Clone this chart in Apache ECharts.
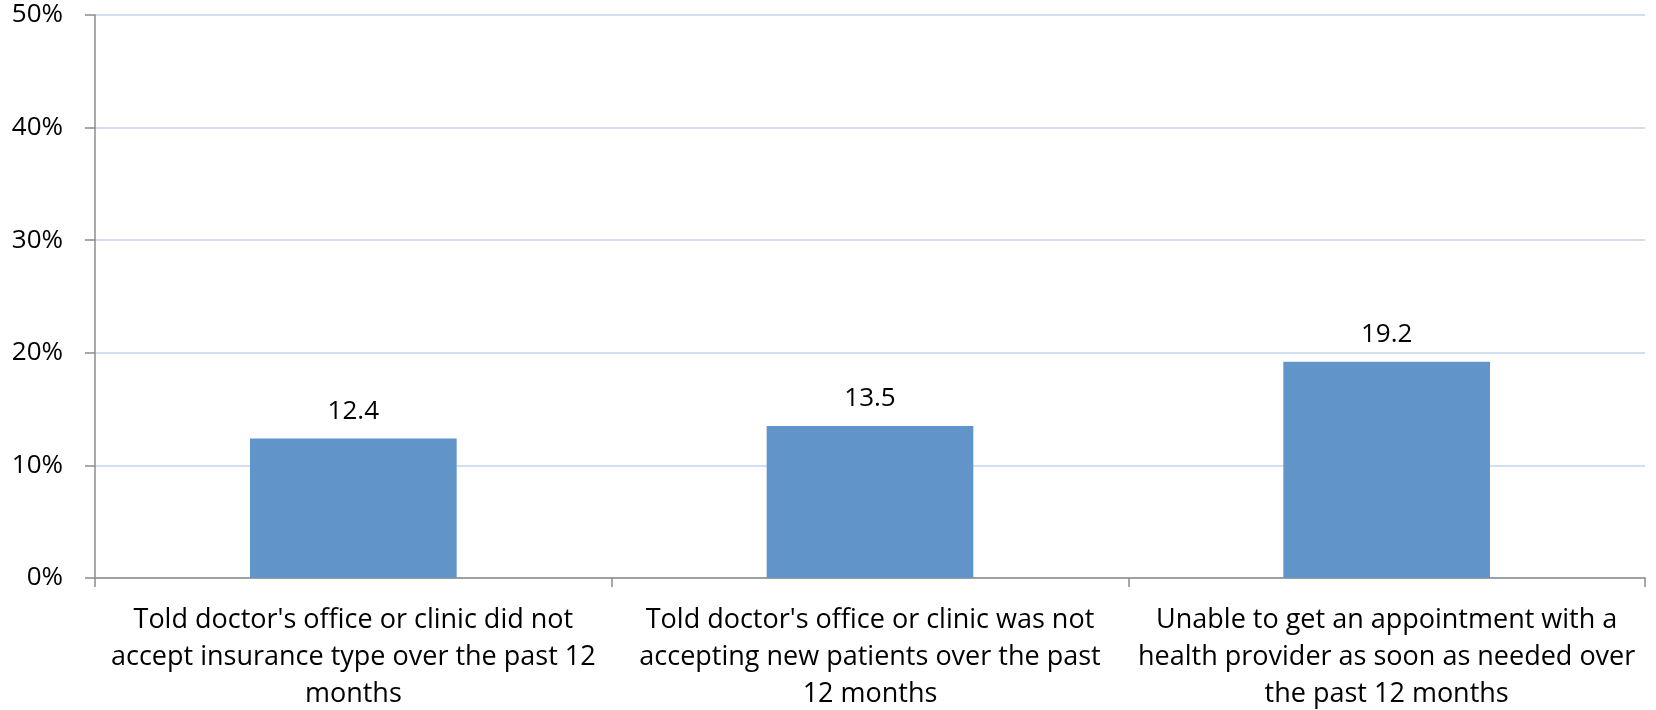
<!DOCTYPE html>
<html><head><meta charset="utf-8">
<script src="https://cdn.jsdelivr.net/npm/echarts@6/dist/echarts.min.js"></script>
<style>html,body{margin:0;padding:0;background:#fff}#c{width:1656px;height:710px}</style>
</head><body><div id="c"></div>
<script>
const categories = [
  "Told doctor's office or clinic did not\naccept insurance type over the past 12\nmonths",
  "Told doctor's office or clinic was not\naccepting new patients over the past\n12 months",
  "Unable to get an appointment with a\nhealth provider as soon as needed over\nthe past 12 months"
];
const values = [12.4, 13.5, 19.2];
const yMin = 0, yMax = 50, yStep = 10;

const chart = echarts.init(document.getElementById('c'), null, {renderer: 'canvas'});
const font = '"Open Sans", sans-serif';
chart.setOption({
  animation: false,
  grid: {left: 95, right: 11, top: 15, bottom: 132, containLabel: false, outerBoundsMode: 'none'},
  xAxis: {
    type: 'category',
    data: categories,
    axisLine: {show: true, lineStyle: {color: '#8c8c8c', width: 1.5}},
    axisTick: {show: true, length: 9, lineStyle: {color: '#8c8c8c', width: 1.5}},
    axisLabel: {color: '#000', fontFamily: font, fontSize: 27, lineHeight: 37, margin: 24, interval: 0}
  },
  yAxis: {
    type: 'value', min: yMin, max: yMax, interval: yStep,
    axisLine: {show: true, lineStyle: {color: '#8c8c8c', width: 1.5}},
    axisTick: {show: true, length: 10, lineStyle: {color: '#8c8c8c', width: 1.5}},
    splitLine: {show: true, lineStyle: {color: '#c3d5ec', width: 1.5}},
    axisLabel: {color: '#000', fontFamily: font, fontSize: 26, margin: 32, formatter: '{value}%'}
  },
  series: [{
    type: 'bar',
    data: values,
    barWidth: '40%',
    itemStyle: {color: '#6195c9'},
    label: {show: true, position: 'top', distance: 14, color: '#000', fontFamily: font, fontSize: 26,
      formatter: p => p.value.toFixed(1)}
  }]
});
</script></body></html>
